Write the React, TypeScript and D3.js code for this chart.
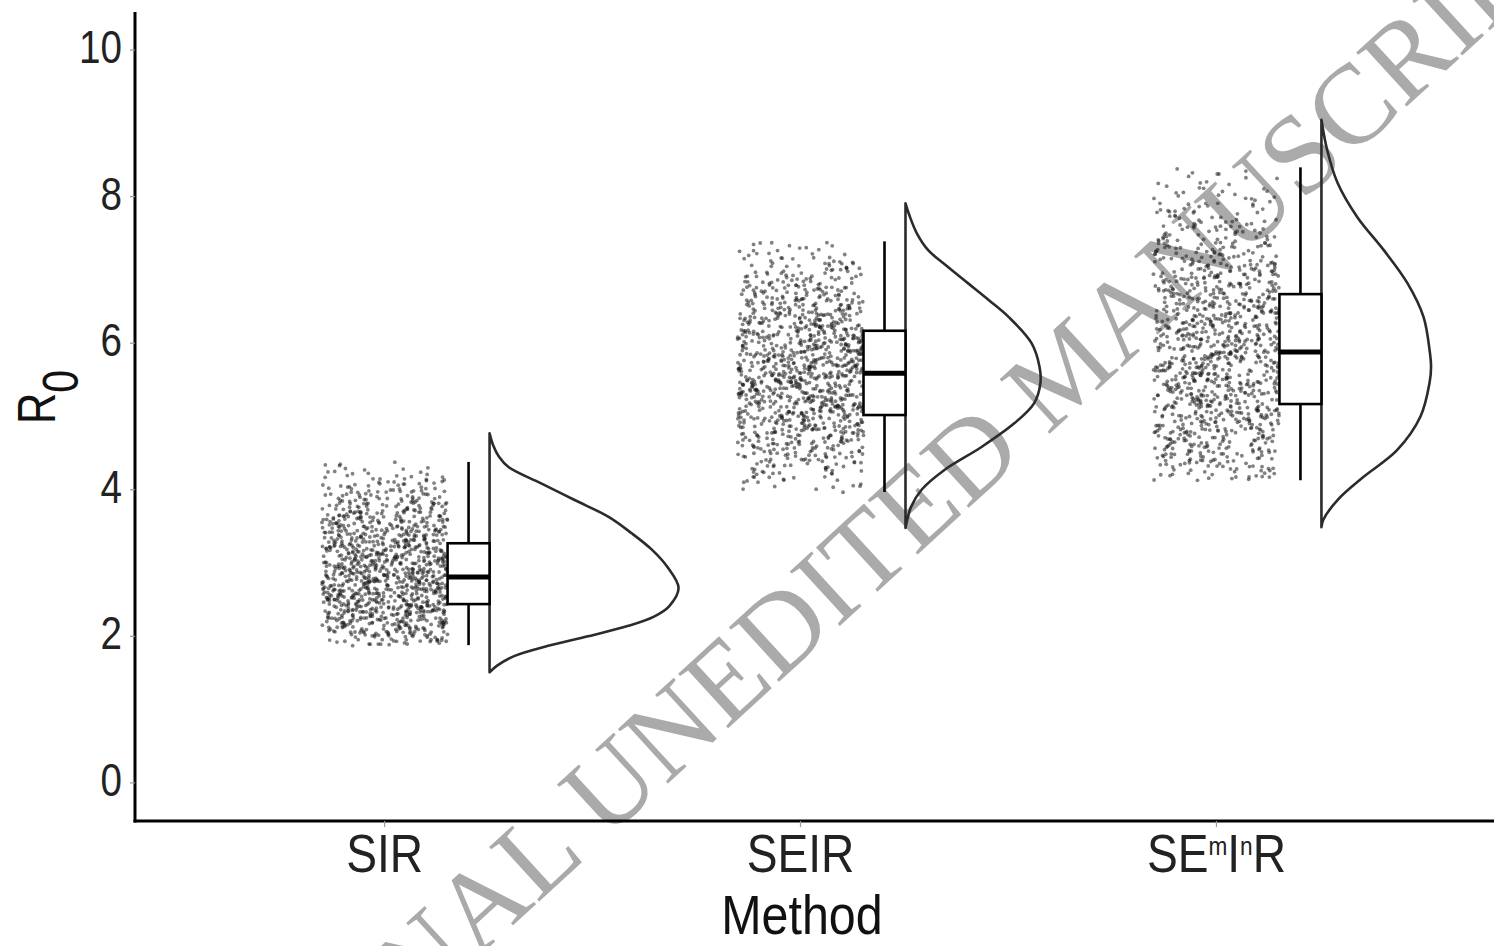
import React, { useRef, useEffect } from "react";
import * as d3 from "d3";

const methods = ["SIR", "SEIR", "SEmInR"];

// five-number summaries: [min, q1, median, q3, max]
const boxStats: number[][] = [
  [1.88, 2.44, 2.81, 3.27, 4.38],
  [3.97, 5.02, 5.59, 6.17, 7.39],
  [4.13, 5.17, 5.88, 6.67, 8.4],
];

// half-violin outlines: [R0, relative density] from top to bottom
const sirDensity: [number, number][] = [
  [4.77, 0], [4.6, 0.02], [4.45, 0.05], [4.31, 0.1], [4.09, 0.27], [3.86, 0.45],
  [3.63, 0.63], [3.41, 0.75], [3.18, 0.86], [2.95, 0.94], [2.66, 1.0], [2.41, 0.95],
  [2.27, 0.87], [2.14, 0.73], [2.0, 0.52], [1.87, 0.31], [1.73, 0.13], [1.6, 0.04], [1.51, 0],
];
const seirDensity: [number, number][] = [
  [7.91, 0], [7.75, 0.02], [7.5, 0.06], [7.27, 0.12], [7.05, 0.22], [6.82, 0.33],
  [6.59, 0.44], [6.36, 0.545], [6.0, 0.667], [5.68, 0.709], [5.46, 0.714], [5.18, 0.68],
  [4.91, 0.577], [4.58, 0.4], [4.27, 0.206], [4.0, 0.085], [3.77, 0.03], [3.48, 0],
];
const semirDensity: [number, number][] = [
  [9.05, 0], [8.64, 0.03], [8.19, 0.085], [7.72, 0.19], [7.27, 0.33], [6.82, 0.455],
  [6.36, 0.54], [5.91, 0.572], [5.68, 0.58], [5.46, 0.572], [5.0, 0.524], [4.54, 0.4],
  [4.17, 0.22], [3.86, 0.085], [3.59, 0.01], [3.49, 0],
];
const densities = [sirDensity, seirDensity, semirDensity];

const yTicks = [0, 2, 4, 6, 8, 10];
const pointsPerMethod = 1100;

const sans = "'Liberation Sans', Arial, Helvetica, sans-serif";

// deterministic integer hash -> [0,1), only used for the horizontal jitter
function hash01(n: number) {
  let h = Math.imul(n ^ 0x9e3779b9, 0x85ebca6b);
  h ^= h >>> 13;
  h = Math.imul(h, 0xc2b2ae35);
  h ^= h >>> 16;
  return (h >>> 0) / 4294967296;
}

// quantiles of the violin outline, cut to the whisker range
function quantilesFromDensity(dens: [number, number][], lo: number, hi: number, n: number) {
  const sorted = dens.slice().sort((a, b) => a[0] - b[0]);
  const f = d3.scaleLinear().domain(sorted.map((d) => d[0])).range(sorted.map((d) => d[1]));
  const grid = d3.range(lo, hi + 0.0001, 0.005);
  const cdf: number[] = [];
  let acc = 0;
  grid.forEach((v) => {
    acc += f(v);
    cdf.push(acc);
  });
  const bis = d3.bisector((c: number) => c).left;
  return d3.range(n).map((i) => {
    const p = ((i + 0.5) / n) * acc;
    return grid[Math.min(grid.length - 1, bis(cdf, p))];
  });
}

const RaincloudChart: React.FC = () => {
  const ref = useRef<SVGSVGElement | null>(null);

  useEffect(() => {
    const width = 1494;
    const height = 946;
    const left = 135;
    const bottom = 821;

    const svg = d3.select(ref.current);
    svg.selectAll("*").remove();
    svg.attr("width", width).attr("height", height).attr("viewBox", `0 0 ${width} ${height}`);

    const y = d3.scaleLinear().domain([-0.52, 10.52]).range([bottom, 12]);
    const x = d3.scalePoint<string>().domain(methods).range([left, 1466]).padding(0.6);
    const dens = d3.scaleLinear().domain([0, 1]).range([0, 189]);

    // watermark sits underneath everything
    svg
      .append("text")
      .attr("transform", "translate(185,1226) rotate(-42.5)")
      .attr("font-family", "'Liberation Serif', 'Times New Roman', serif")
      .attr("font-size", 113)
      .attr("fill", "#aaaaaa")
      .text("ORIGINAL UNEDITED MANUSCRIPT");

    const boxOffset = 84;
    const boxHalf = 21;
    const violinOffset = 105;
    const jitterHalf = 63;

    // jittered raw points
    methods.forEach((m, k) => {
      const vals = quantilesFromDensity(densities[k], boxStats[k][0], boxStats[k][4], pointsPerMethod);
      const cx = x(m)!;
      const pts = vals.map((v, i) => [
        cx + (hash01(i * 3 + k * 7919 + 1) - 0.5) * 2 * jitterHalf,
        y(v) + (hash01(i * 5 + k * 104729 + 11) - 0.5) * 2.5,
      ]);
      svg
        .append("g")
        .selectAll("circle")
        .data(pts)
        .join("circle")
        .attr("cx", (d) => d[0])
        .attr("cy", (d) => d[1])
        .attr("r", 1.9)
        .attr("fill", "#1a1a1a")
        .attr("fill-opacity", 0.55);
    });

    // half violins
    const line = d3
      .line<[number, number]>()
      .x((d) => d[0])
      .y((d) => d[1])
      .curve(d3.curveCatmullRom.alpha(0.5));
    methods.forEach((m, k) => {
      const base = x(m)! + violinOffset;
      const pts = densities[k].map((d) => [base + dens(d[1]), y(d[0])] as [number, number]);
      svg
        .append("path")
        .attr("d", line(pts) + "Z")
        .attr("fill", "none")
        .attr("stroke", "#2b2b2b")
        .attr("stroke-width", 2.6)
        .attr("stroke-linejoin", "round");
    });

    // boxplots
    methods.forEach((m, k) => {
      const cx = x(m)! + boxOffset;
      const [mn, q1, md, q3, mx] = boxStats[k];
      const g = svg.append("g").attr("stroke", "#000").attr("stroke-width", 2.6);
      g.append("line").attr("x1", cx).attr("x2", cx).attr("y1", y(mx)).attr("y2", y(q3));
      g.append("line").attr("x1", cx).attr("x2", cx).attr("y1", y(q1)).attr("y2", y(mn));
      g.append("rect")
        .attr("x", cx - boxHalf)
        .attr("y", y(q3))
        .attr("width", boxHalf * 2)
        .attr("height", y(q1) - y(q3))
        .attr("fill", "#fff");
      g.append("line")
        .attr("x1", cx - boxHalf)
        .attr("x2", cx + boxHalf)
        .attr("y1", y(md))
        .attr("y2", y(md))
        .attr("stroke-width", 5);
    });

    // axes
    svg
      .append("line")
      .attr("x1", left).attr("x2", left).attr("y1", 12).attr("y2", bottom + 1.5)
      .attr("stroke", "#000").attr("stroke-width", 3);
    svg
      .append("line")
      .attr("x1", left - 1.5).attr("x2", width).attr("y1", bottom).attr("y2", bottom)
      .attr("stroke", "#000").attr("stroke-width", 3);

    const yt = svg.append("g");
    yTicks.forEach((t) => {
      yt.append("line")
        .attr("x1", left - 5).attr("x2", left).attr("y1", y(t)).attr("y2", y(t))
        .attr("stroke", "#999").attr("stroke-width", 1.2);
      yt.append("text")
        .attr("transform", `translate(122,${y(t) + 13}) scale(0.84,1)`)
        .attr("text-anchor", "end")
        .attr("font-family", sans)
        .attr("font-size", 46)
        .attr("fill", "#222")
        .text(t);
    });

    methods.forEach((m) => {
      const cx = x(m)!;
      svg.append("line")
        .attr("x1", cx).attr("x2", cx).attr("y1", bottom).attr("y2", bottom + 6)
        .attr("stroke", "#999").attr("stroke-width", 1.2);
      const t = svg
        .append("text")
        .attr("transform", `translate(${cx},872) scale(0.87,1)`)
        .attr("text-anchor", "middle")
        .attr("font-family", sans)
        .attr("font-size", 53)
        .attr("fill", "#222");
      if (m === "SEmInR") {
        t.append("tspan").text("SE");
        t.append("tspan").attr("font-size", 26).attr("dy", -17).text("m");
        t.append("tspan").attr("dy", 17).text("I");
        t.append("tspan").attr("font-size", 26).attr("dy", -17).text("n");
        t.append("tspan").attr("dy", 17).text("R");
      } else {
        t.text(m);
      }
    });

    svg
      .append("text")
      .attr("transform", "translate(802,934) scale(0.88,1)")
      .attr("text-anchor", "middle")
      .attr("font-family", sans)
      .attr("font-size", 55)
      .attr("fill", "#111")
      .text("Method");

    const yl = svg
      .append("text")
      .attr("transform", "translate(55,397) rotate(-90) scale(0.82,1)")
      .attr("text-anchor", "middle")
      .attr("font-family", sans)
      .attr("font-size", 53)
      .attr("fill", "#111");
    yl.append("tspan").text("R");
    yl.append("tspan").attr("font-size", 50).attr("dy", 23).text("0");
  }, []);

  return <svg ref={ref} style={{ position: "absolute", left: 0, top: 0 }}></svg>;
};

export default function App() {
  return <RaincloudChart />;
}
